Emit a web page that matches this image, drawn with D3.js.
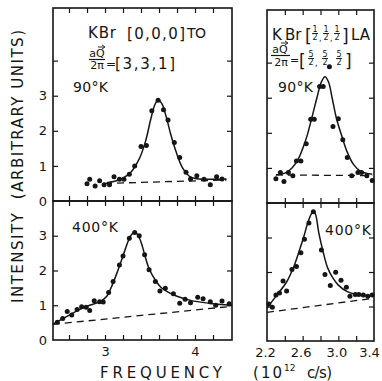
<!DOCTYPE html>
<html>
<head>
<meta charset="utf-8">
<script src="https://cdn.jsdelivr.net/npm/d3@7"></script>
<style>
  body { margin: 0; background: #fff; }
  svg { display: block; font-family: "DejaVu Sans", sans-serif; }
  text { fill: #151515; }
</style>
</head>
<body>
<svg id="chart" width="382" height="381"></svg>
<script>
// ---- data (frequency in 10^12 c/s, intensity in arbitrary units) ----
// KBr TO, 90 K
const toColdFreq = [2.80, 2.83, 2.89, 2.94, 2.99, 3.05, 3.10, 3.16, 3.21, 3.27, 3.33, 3.40, 3.46, 3.52, 3.59, 3.65, 3.70, 3.77, 3.83, 3.90, 3.95, 4.02, 4.10, 4.17, 4.24, 4.30];
const toColdInt  = [0.49, 0.62, 0.43, 0.58, 0.46, 0.46, 0.69, 0.62, 0.62, 0.76, 1.00, 1.55, 1.58, 2.57, 2.87, 2.60, 2.31, 1.67, 1.24, 0.82, 0.63, 0.72, 0.62, 0.46, 0.69, 0.63];
const toColdFitF = [3.02, 3.15, 3.28, 3.38, 3.45, 3.51, 3.555, 3.59, 3.63, 3.68, 3.73, 3.79, 3.86, 3.93, 4.00, 4.15, 4.35];
const toColdFitI = [0.52, 0.60, 0.80, 1.20, 1.70, 2.35, 2.75, 2.88, 2.78, 2.40, 1.90, 1.40, 0.95, 0.72, 0.64, 0.62, 0.63];
const toColdBase = [[3.00, 0.50], [4.35, 0.60]];

// KBr TO, 400 K
const toHotFreq = [2.47, 2.53, 2.58, 2.63, 2.69, 2.74, 2.79, 2.83, 2.88, 2.94, 2.98, 3.04, 3.09, 3.16, 3.20, 3.27, 3.33, 3.38, 3.44, 3.49, 3.56, 3.61, 3.67, 3.76, 3.83, 3.89, 3.95, 4.03, 4.09, 4.17, 4.23, 4.30, 4.38];
const toHotInt  = [0.51, 0.62, 0.82, 0.72, 0.88, 0.96, 0.94, 0.85, 1.13, 1.10, 1.09, 1.37, 1.68, 2.16, 2.42, 2.93, 3.09, 3.00, 2.45, 2.02, 1.68, 1.41, 1.49, 1.33, 1.06, 1.17, 1.07, 1.23, 1.19, 1.10, 1.00, 1.12, 1.04];
const toHotFitF = [2.42, 2.52, 2.62, 2.72, 2.83, 2.94, 3.02, 3.08, 3.14, 3.20, 3.26, 3.30, 3.33, 3.36, 3.40, 3.44, 3.49, 3.56, 3.62, 3.70, 3.80, 3.95, 4.15, 4.41];
const toHotFitI = [0.45, 0.60, 0.74, 0.88, 1.00, 1.10, 1.26, 1.58, 1.98, 2.42, 2.86, 3.05, 3.10, 3.04, 2.82, 2.46, 2.05, 1.72, 1.52, 1.38, 1.26, 1.14, 1.06, 1.00];
const toHotBase = [[2.42, 0.45], [4.41, 0.97]];

// KBr LA, 90 K
const laColdFreq = [2.30, 2.35, 2.39, 2.44, 2.49, 2.53, 2.58, 2.64, 2.69, 2.73, 2.79, 2.83, 2.90, 2.94, 3.00, 3.05, 3.10, 3.15, 3.22, 3.26, 3.32, 3.38];
const laColdInt  = [0.69, 0.87, 0.61, 0.87, 0.78, 1.20, 1.20, 1.69, 2.39, 2.39, 3.32, 3.32, 3.88, 2.18, 2.40, 1.80, 1.30, 0.78, 0.87, 0.87, 0.78, 0.64];
const laColdFitF = [2.30, 2.40, 2.48, 2.55, 2.60, 2.65, 2.70, 2.76, 2.81, 2.85, 2.89, 2.93, 2.98, 3.04, 3.10, 3.17, 3.25, 3.38];
const laColdFitI = [0.80, 0.85, 1.00, 1.25, 1.55, 1.92, 2.40, 3.00, 3.45, 3.60, 3.45, 3.00, 2.40, 1.90, 1.45, 1.10, 0.90, 0.82];
const laColdBase = [[2.30, 0.80], [3.38, 0.78]];

// KBr LA, 400 K
const laHotFreq = [2.22, 2.26, 2.30, 2.34, 2.38, 2.42, 2.48, 2.53, 2.58, 2.62, 2.67, 2.72, 2.81, 2.85, 2.91, 2.97, 3.03, 3.09, 3.13, 3.19, 3.23, 3.28, 3.33, 3.38];
const laHotInt  = [1.07, 0.98, 1.33, 1.39, 1.74, 1.45, 2.07, 2.16, 2.56, 2.95, 3.42, 3.75, 2.64, 1.93, 1.61, 1.99, 1.76, 1.56, 1.30, 1.35, 1.35, 1.33, 1.30, 1.33];
const laHotFitF = [2.20, 2.24, 2.31, 2.42, 2.50, 2.56, 2.61, 2.66, 2.70, 2.725, 2.75, 2.78, 2.83, 2.88, 2.94, 3.00, 3.10, 3.20, 3.38];
const laHotFitI = [0.95, 1.09, 1.33, 1.71, 2.15, 2.60, 3.00, 3.45, 3.70, 3.78, 3.62, 3.15, 2.58, 2.12, 1.82, 1.62, 1.43, 1.35, 1.32];
const laHotBase = [[2.20, 0.83], [3.40, 1.24]];

// ticks
const toXTicks = [2.6, 2.8, 3.0, 3.2, 3.4, 3.6, 3.8, 4.0, 4.2];
const toXLabels = [3, 4];
const laXTicks = [2.4, 2.6, 2.8, 3.0, 3.2];
const laXLabels = [2.2, 2.6, 3.0, 3.4];
const coldYTicks = [1, 2, 3, 4];
const hotYTicks = [1, 2, 3];
const yLabels = [0, 1, 2, 3];

const ink = '#151515';
const svg = d3.select('#chart');
const tk = 5;

// left column spans x 53..232, right column 267..374
const panels = [
  { x0: 53, x1: 232, y0: 8, y1: 201, xDom: [2.422, 4.411], yDom: [0, 5.5],
    f: toColdFreq, v: toColdInt, ff: toColdFitF, fv: toColdFitI, base: toColdBase,
    xt: toXTicks, yt: coldYTicks, top: true, left: true },
  { x0: 53, x1: 232, y0: 201, y1: 340, xDom: [2.422, 4.411], yDom: [0, 4],
    f: toHotFreq, v: toHotInt, ff: toHotFitF, fv: toHotFitI, base: toHotBase,
    xt: toXTicks, yt: hotYTicks, top: false, left: true },
  { x0: 267, x1: 374, y0: 10, y1: 203, xDom: [2.2, 3.4], yDom: [0, 5.5],
    f: laColdFreq, v: laColdInt, ff: laColdFitF, fv: laColdFitI, base: laColdBase,
    xt: laXTicks, yt: coldYTicks, top: true, left: false },
  { x0: 267, x1: 374, y0: 203, y1: 341, xDom: [2.2, 3.4], yDom: [0, 4],
    f: laHotFreq, v: laHotInt, ff: laHotFitF, fv: laHotFitI, base: laHotBase,
    xt: laXTicks, yt: hotYTicks, top: false, left: false }
];

function tickAxis(g, axis, vals) {
  g.call(axis.tickValues(vals).tickSize(-tk).tickFormat(''));
  g.select('.domain').remove();
  g.selectAll('line').attr('stroke', ink).attr('stroke-width', 1.2);
}

panels.forEach(p => {
  const x = d3.scaleLinear().domain(p.xDom).range([p.x0, p.x1]);
  const y = d3.scaleLinear().domain(p.yDom).range([p.y1, p.y0]);
  const g = svg.append('g');

  // ticks on all four sides, pointing inward
  tickAxis(g.append('g').attr('transform', `translate(0,${p.y1})`), d3.axisBottom(x), p.xt);
  tickAxis(g.append('g').attr('transform', `translate(0,${p.y0})`), d3.axisTop(x), p.xt);
  tickAxis(g.append('g').attr('transform', `translate(${p.x0},0)`), d3.axisLeft(y), p.yt);
  tickAxis(g.append('g').attr('transform', `translate(${p.x1},0)`), d3.axisRight(y), p.yt);

  g.append('rect')
    .attr('x', p.x0).attr('y', p.y0)
    .attr('width', p.x1 - p.x0).attr('height', p.y1 - p.y0)
    .attr('fill', 'none').attr('stroke', ink).attr('stroke-width', 1.6);

  // dashed background line
  g.append('path')
    .attr('d', d3.line().x(d => x(d[0])).y(d => y(d[1]))(p.base))
    .attr('fill', 'none').attr('stroke', ink).attr('stroke-width', 1.3)
    .attr('stroke-dasharray', '7,5');

  // fitted curve
  const fit = p.ff.map((f, i) => [f, p.fv[i]]);
  g.append('path')
    .attr('d', d3.line().x(d => x(d[0])).y(d => y(d[1])).curve(d3.curveCatmullRom.alpha(0.5))(fit))
    .attr('fill', 'none').attr('stroke', ink).attr('stroke-width', 1.5);

  // measured points
  g.selectAll('circle.pt')
    .data(p.f.map((f, i) => [f, p.v[i]]))
    .enter().append('circle')
    .attr('class', 'pt')
    .attr('cx', d => x(d[0])).attr('cy', d => y(d[1]))
    .attr('r', 2.5).attr('fill', ink);

  // y labels on the left column
  if (p.left) {
    const ya = g.append('g').attr('transform', `translate(${p.x0},0)`)
      .call(d3.axisLeft(y).tickValues(yLabels).tickSize(0).tickPadding(6).tickFormat(d3.format('d')));
    ya.select('.domain').remove();
    ya.selectAll('text').attr('font-size', 13).attr('font-family', '"DejaVu Sans", sans-serif').attr('fill', ink);
  }

  // x labels under the bottom panels
  if (!p.top) {
    const lab = p.left ? toXLabels : laXLabels;
    const fmt = p.left ? d3.format('d') : d3.format('.1f');
    const xa = g.append('g').attr('transform', `translate(0,${p.y1})`)
      .call(d3.axisBottom(x).tickValues(lab).tickSize(0).tickPadding(7).tickFormat(fmt));
    xa.select('.domain').remove();
    xa.selectAll('text').attr('font-size', 13).attr('font-family', '"DejaVu Sans", sans-serif').attr('fill', ink);
    if (!p.left) {
      // labels in the reference sit slightly left of their ticks; keep 3.4 inside the picture
      xa.selectAll('text').attr('dx', -2);
      xa.selectAll('text').filter(d => d === 3.4).attr('dx', -5);
    }
  }
});

// ---- annotations ----
function txt(x, y, s, size, opt = {}) {
  const t = svg.append('text').attr('x', x).attr('y', y).attr('font-size', size).text(s);
  if (opt.anchor) t.attr('text-anchor', opt.anchor);
  if (opt.len) t.attr('textLength', opt.len).attr('lengthAdjust', 'spacing');
  return t;
}
function hline(x1, x2, y, w = 1) {
  svg.append('line').attr('x1', x1).attr('x2', x2).attr('y1', y).attr('y2', y)
    .attr('stroke', ink).attr('stroke-width', w);
}
function vecQ(cx, y) {
  // small arrow over Q
  hline(cx - 3, cx + 3, y, 0.9);
  svg.append('path').attr('d', `M${cx + 1},${y - 2} L${cx + 4},${y} L${cx + 1},${y + 2}`)
    .attr('fill', 'none').attr('stroke', ink).attr('stroke-width', 0.9);
}
function halfFrac(cx, yNum, yDen, num, size) {
  txt(cx, yNum, num, size, { anchor: 'middle' });
  hline(cx - 3, cx + 3, yNum + 1.5, 0.9);
  txt(cx, yDen, '2', size, { anchor: 'middle' });
}

// left column
txt(88, 38, 'KBr', 15, { len: 28 });
txt(127, 39, '[0,0,0]', 15, { len: 58 });
txt(187, 38, 'TO', 14, { len: 19 });
txt(97, 57, 'aQ', 11, { anchor: 'middle' });
vecQ(101, 47);
hline(89, 105, 59.5, 1.2);
txt(97, 69, '2π', 11, { anchor: 'middle' });
txt(106, 68, '=', 12);
txt(115, 69, '[3,3,1]', 15, { len: 60 });
txt(73, 92, '90°K', 14, { len: 35 });
txt(72, 232, '400°K', 14, { len: 46 });

// right column
txt(272, 40, 'K', 15);
txt(285, 40, 'Br', 15);
txt(305, 42, '[', 17);
halfFrac(315, 32, 40, '1', 8);
txt(319, 41, ',', 8);
halfFrac(326, 32, 40, '1', 8);
txt(330, 41, ',', 8);
halfFrac(337, 32, 40, '1', 8);
txt(342, 42, ']', 17);
txt(351, 40, 'LA', 15, { len: 19 });
txt(280, 53, 'aQ', 11, { anchor: 'middle' });
vecQ(284, 43);
hline(271, 290, 55.5, 1.2);
txt(281, 66, '2π', 11, { anchor: 'middle' });
txt(290, 64, '=', 11);
txt(299, 67, '[', 17);
halfFrac(311, 57, 65, '5', 8);
txt(315, 66, ',', 8);
halfFrac(325, 57, 65, '5', 8);
txt(329, 66, ',', 8);
halfFrac(339, 57, 65, '5', 8);
txt(345, 67, ']', 17);
txt(278, 92, '90°K', 14, { len: 35 });
txt(325, 235, '400°K', 14, { len: 46 });

// axis titles
svg.append('text')
  .attr('transform', 'translate(23,303) rotate(-90)')
  .attr('font-size', 15)
  .attr('textLength', 273).attr('lengthAdjust', 'spacing')
  .style('white-space', 'pre')
  .text('INTENSITY  (ARBITRARY UNITS)');

txt(100, 378, 'FREQUENCY', 15, { len: 122 });
txt(253, 378, '(10', 15, { len: 29 });
txt(284, 371, '12', 9);
txt(307, 378, 'c/s)', 15, { len: 25 });
</script>
</body>
</html>
